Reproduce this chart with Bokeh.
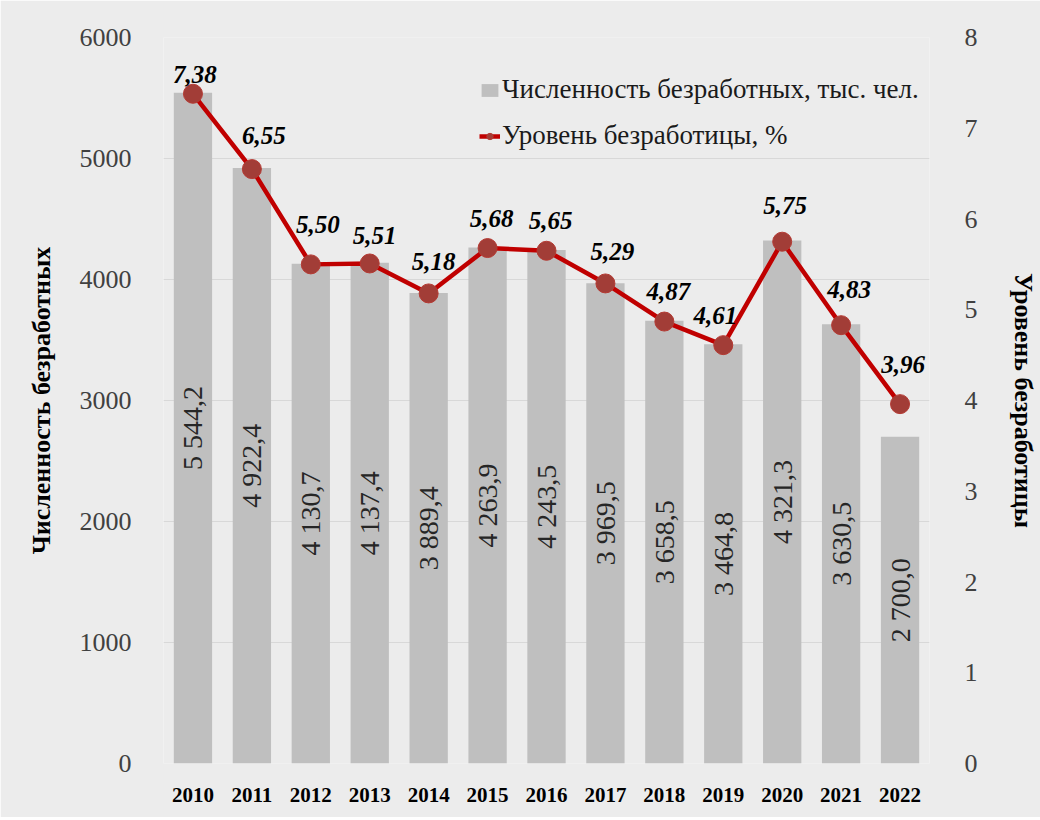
import math
from bokeh.plotting import figure
from bokeh.models import (ColumnDataSource, FactorRange, Range1d, LinearAxis,
                          FixedTicker, Legend, LegendItem)
from bokeh.core.properties import value
from bokeh.embed import file_html
from bokeh.resources import INLINE

# ---- data ----
years = ["2010", "2011", "2012", "2013", "2014", "2015", "2016",
         "2017", "2018", "2019", "2020", "2021", "2022"]
unemployed = [5544.2, 4922.4, 4130.7, 4137.4, 3889.4, 4263.9, 4243.5,
              3969.5, 3658.5, 3464.8, 4321.3, 3630.5, 2700.0]
rate = [7.38, 6.55, 5.50, 5.51, 5.18, 5.68, 5.65,
        5.29, 4.87, 4.61, 5.75, 4.83, 3.96]
left_ticks = [0, 1000, 2000, 3000, 4000, 5000, 6000]
right_ticks = [0, 1, 2, 3, 4, 5, 6, 7, 8]
bar_name = "Численность безработных, тыс. чел."
line_name = "Уровень безработицы, %"
left_title = "Численность безработных"
right_title = "Уровень безработицы"

# label offsets (screen px) for the rate labels
rate_dx = [2, 12, 7, 5, 5, 4, 4, 7, 4, -8, 3, 8, 3]
rate_dy = [-19, -34, -40, -28, -32, -30, -30, -32, -30, -30, -36, -36, -40]

FONT = "Liberation Serif"
BG = "#ececec"

def fmt_thousands(v):
    s = f"{v:,.1f}"
    return s.replace(",", " ").replace(".", ",")

src = ColumnDataSource(dict(
    x=years,
    u=unemployed,
    u_half=[v / 2 for v in unemployed],
    u_lbl=[fmt_thousands(v) for v in unemployed],
    r=rate,
    r_lbl=[f"{v:.2f}".replace(".", ",") for v in rate],
    dx=rate_dx,
    dy=rate_dy,
))

p = figure(width=1040, height=817, x_range=FactorRange(*years),
           y_range=Range1d(0, 6000), output_backend="svg",
           toolbar_location=None, tools="")
p.extra_y_ranges = {"rate": Range1d(0, 8)}

p.background_fill_color = BG
p.border_fill_color = BG
p.outline_line_color = None
p.min_border_left = 163
p.min_border_right = 95
p.min_border_top = 37
p.min_border_bottom = 54

p.x_range.range_padding = 0.0
p.x_range.group_padding = 0

# grid
p.xgrid.grid_line_color = None
p.ygrid.grid_line_color = "#d8d8d8"
p.ygrid.grid_line_width = 1
p.ygrid.ticker = FixedTicker(ticks=left_ticks)

# bars
bars = p.vbar(x="x", top="u", width=0.65, source=src,
              fill_color="#bfbfbf", line_color=None)

# bar labels
p.text(x="x", y="u_half", text="u_lbl", source=src, angle=math.pi / 2,
       text_align="center", text_baseline="middle",
       text_font=value(FONT), text_font_size="28px", text_color="#262626")

# line
ln = p.line(x="x", y="r", source=src, y_range_name="rate",
            line_color="#c00000", line_width=4.5)
pts = p.scatter(x="x", y="r", source=src, y_range_name="rate", size=19,
                fill_color="#a23d37", line_color="#b43a33", line_width=1)

# rate labels
p.text(x="x", y="r", text="r_lbl", source=src, y_range_name="rate",
       x_offset="dx", y_offset="dy",
       text_align="center", text_baseline="alphabetic",
       text_font=value(FONT), text_font_size="25px",
       text_font_style="bold italic", text_color="#000000")

# axes
p.xaxis.axis_line_color = None
p.xaxis.major_tick_line_color = None
p.xaxis.minor_tick_line_color = None
p.xaxis.major_label_text_font = FONT
p.xaxis.major_label_text_font_size = "21px"
p.xaxis.major_label_text_font_style = "bold"
p.xaxis.major_label_text_color = "#000000"
p.xaxis.major_label_standoff = 18

ly = p.yaxis[0]
ly.ticker = FixedTicker(ticks=left_ticks)
ly.axis_line_color = None
ly.major_tick_line_color = None
ly.minor_tick_line_color = None
ly.major_label_text_font = FONT
ly.major_label_text_font_size = "26px"
ly.major_label_text_color = "#404040"
ly.major_label_standoff = 26
ly.axis_label = left_title
ly.axis_label_text_font = FONT
ly.axis_label_text_font_size = "26px"
ly.axis_label_text_font_style = "bold"
ly.axis_label_text_color = "#000000"
ly.axis_label_standoff = 21

ry = LinearAxis(y_range_name="rate", ticker=FixedTicker(ticks=right_ticks))
ry.axis_line_color = None
ry.major_tick_line_color = None
ry.minor_tick_line_color = None
ry.major_label_text_font = FONT
ry.major_label_text_font_size = "26px"
ry.major_label_text_color = "#404040"
ry.major_label_standoff = 29
ry.axis_label = right_title
ry.axis_label_text_font = FONT
ry.axis_label_text_font_size = "26px"
ry.axis_label_text_font_style = "bold"
ry.axis_label_text_color = "#000000"
ry.axis_label_standoff = 28
p.add_layout(ry, "right")

# legend
legend = Legend(items=[LegendItem(label=bar_name, renderers=[bars]),
                       LegendItem(label=line_name, renderers=[ln, pts])],
                location=(316, 612))
legend.background_fill_alpha = 0
legend.border_line_color = None
legend.padding = 0
legend.margin = 0
legend.spacing = 15
legend.glyph_width = 21
legend.glyph_height = 16
legend.label_standoff = 2
legend.label_text_font = FONT
legend.label_text_font_size = "27px"
legend.label_text_color = "#1a1a1a"
p.add_layout(legend, "center")

open("out.html", "w").write(file_html(p, INLINE))
